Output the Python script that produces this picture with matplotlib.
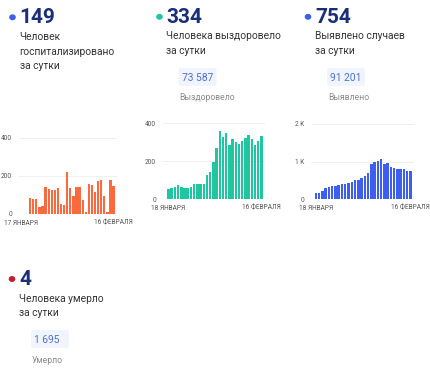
import matplotlib
matplotlib.use("Agg")
import matplotlib.pyplot as plt
from matplotlib.patches import FancyBboxPatch

# data
hosp_values = [0, 0, 0, 82, 79, 80, 36, 44, 142, 134, 124, 128, 139, 54, 48, 222,
               139, 96, 142, 142, 72, 9, 160, 152, 118, 172, 180, 95, 12, 178, 149]
hosp_dates = ["17 ЯНВАРЯ", "16 ФЕВРАЛЯ"]

recov_values = [55, 60, 64, 74, 67, 62, 58, 65, 78, 78, 80, 80, 129, 142, 195, 271,
                359, 329, 350, 285, 315, 301, 292, 306, 322, 340, 319, 288, 308, 334]
recov_dates = ["18 ЯНВАРЯ", "16 ФЕВРАЛЯ"]

cases_values = [159, 177, 212, 292, 327, 345, 363, 380, 398, 416, 434, 451, 522, 522,
                558, 628, 699, 947, 1000, 1018, 1071, 929, 965, 850, 823, 814, 805,
                796, 761, 754]
cases_dates = ["18 ЯНВАРЯ", "16 ФЕВРАЛЯ"]

headline = ["149", "334", "754", "4"]
captions = [["Человек", "госпитализировано", "за сутки"],
            ["Человека выздоровело", "за сутки"],
            ["Выявлено случаев", "за сутки"],
            ["Человека умерло", "за сутки"]]
totals = [None, "73 587", "91 201", "1 695"]
total_labels = [None, "Выздоровело", "Выявлено", "Умерло"]

plt.rcParams['font.family'] = ['Roboto', 'DejaVu Sans']

W, H = 430, 374
fig = plt.figure(figsize=(W / 100, H / 100), dpi=100)
fig.patch.set_facecolor("white")

NAVY = "#1b2f78"
TEXT = "#333333"
GREY = "#8a8a8a"
TOTAL_BLUE = "#4f6fd0"


def fx(x):
    return x / W


def fy(y):
    return 1 - y / H


def add_block(i, x, y, dot_color):
    # y is baseline of the big number
    fig.patches.append(plt.Circle((fx(x - 7), fy(y - 6)), 2.6 / W, color=dot_color,
                                  transform=fig.transFigure, figure=fig))
    fig.text(fx(x), fy(y), headline[i], fontsize=15, fontweight="bold", color=NAVY,
             va="baseline", ha="left")
    for k, line in enumerate(captions[i]):
        fig.text(fx(x), fy(y + 16.5 + k * 14.8), line, fontsize=7.4, color=TEXT,
                 va="baseline", ha="left")
    if totals[i] is not None:
        ty = y + 16.5 + len(captions[i]) * 14.8 + 12
        box = FancyBboxPatch((fx(x + 12), fy(ty + 5)), 38 / W, 18 / H,
                             boxstyle="round,pad=0,rounding_size=0.006",
                             transform=fig.transFigure, facecolor="#f0f4fc",
                             edgecolor="none", figure=fig)
        fig.patches.append(box)
        fig.text(fx(x + 15), fy(ty), totals[i], fontsize=7.4, color=TOTAL_BLUE,
                 va="baseline", ha="left")
        fig.text(fx(x + 13), fy(ty + 19.5), total_labels[i], fontsize=6.2, color=GREY,
                 va="baseline", ha="left")


add_block(0, 19.5, 23.3, "#3d5ee8")
add_block(1, 166.5, 22.8, "#1fc6a0")
add_block(2, 315, 22.8, "#3d5ee8")
add_block(3, 19, 285, "#c41e2a")


def add_chart(values, dates, color, left, right, top, bottom, yticks, ylabels, xpad):
    ax = fig.add_axes([fx(left), fy(bottom), fx(right - left), (bottom - top) / H])
    n = len(values)
    ax.bar(range(n), values, width=0.76, color=color, linewidth=0, zorder=2)
    ax.set_xlim(-0.5 - xpad[0], n - 0.5 + xpad[1])
    ax.set_ylim(0, yticks[-1])
    ax.set_yticks(yticks)
    ax.set_yticklabels(ylabels)
    ax.set_xticks([0, n - 1])
    ax.set_xticklabels(dates)
    ax.tick_params(length=0, labelsize=4.7, labelcolor="#555555")
    ax.tick_params(axis="y", pad=5)
    ax.tick_params(axis="x", pad=4)
    ax.grid(axis="y", color="#ececec", linewidth=0.6, zorder=0)
    for s in ax.spines.values():
        s.set_visible(False)
    ax.set_facecolor("none")
    return ax


add_chart(hosp_values, hosp_dates, "#fb6a3e", 19, 117, 138, 214,
          [0, 200, 400], ["0", "200", "400"], (0.1, 0.6))
add_chart(recov_values, recov_dates, "#1fc6a0", 163, 265, 123.3, 199.3,
          [0, 200, 400], ["0", "200", "400"], (1.2, 0.6))
add_chart(cases_values, cases_dates, "#3d5ef0", 311, 414, 124, 199.3,
          [0, 1000, 2000], ["0", "1 K", "2 K"], (1.0, 0.6))

plt.savefig("out.png", dpi=100, facecolor="white")
